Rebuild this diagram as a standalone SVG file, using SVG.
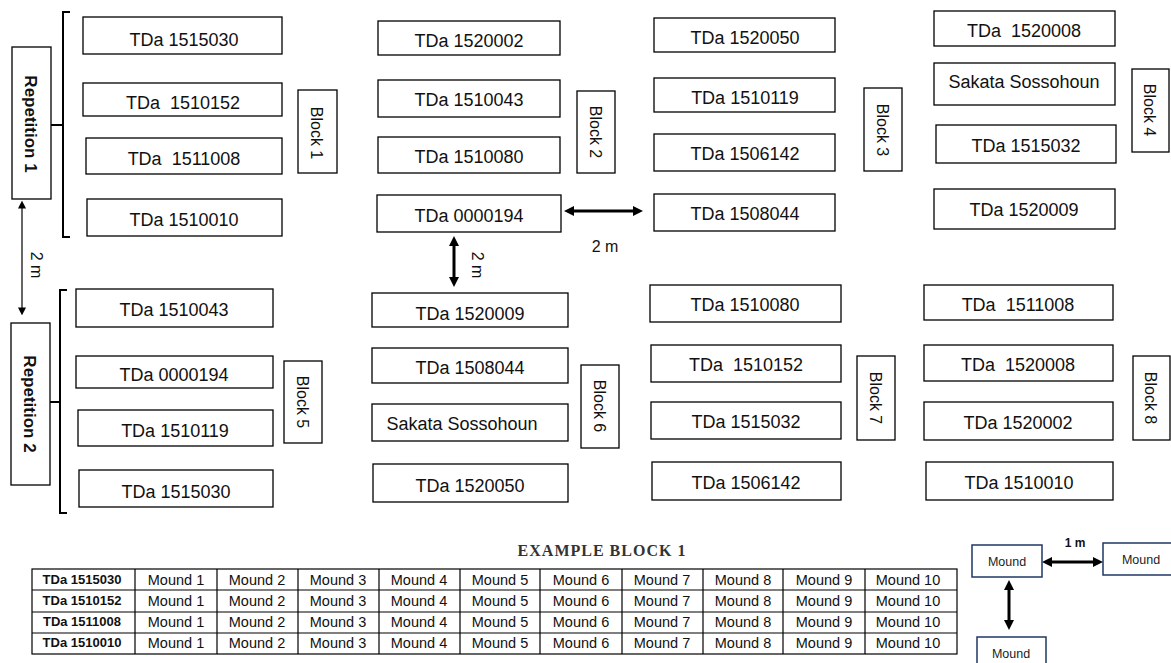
<svg xmlns="http://www.w3.org/2000/svg" width="1171" height="663" viewBox="0 0 1171 663">
<style>
.b{fill:#fff;stroke:#000;stroke-width:1.3}
.t{font-family:"Liberation Sans",Arial,sans-serif;font-size:18px;fill:#111;text-anchor:middle}
.rt{font-family:"Liberation Sans",Arial,sans-serif;font-size:16px;fill:#111;text-anchor:middle}
.rep{font-family:"Liberation Sans",Arial,sans-serif;font-size:17px;font-weight:bold;fill:#111;text-anchor:middle}
.br{fill:none;stroke:#000;stroke-width:2}
.th{stroke:#000;stroke-width:3;fill:none}
.tn{stroke:#000;stroke-width:1.2;fill:none}
.tc{fill:none;stroke:#000;stroke-width:1.2}
.tx{font-family:"Liberation Sans",Arial,sans-serif;font-size:14.5px;fill:#111;text-anchor:middle}
.tb{font-family:"Liberation Sans",Arial,sans-serif;font-size:13px;font-weight:bold;fill:#111;text-anchor:middle}
.mb{fill:#fff;stroke:#1f3864;stroke-width:1.5}
.mt{font-family:"Liberation Sans",Arial,sans-serif;font-size:12.5px;fill:#222;text-anchor:middle}
</style>
<defs>
<marker id="ah" viewBox="0 0 10 10" refX="2" refY="5" markerWidth="10" markerHeight="10" markerUnits="userSpaceOnUse" orient="auto-start-reverse"><path d="M0,0 L10,5 L0,10 z" fill="#000"/></marker>
<marker id="as" viewBox="0 0 10 10" refX="2" refY="5" markerWidth="8" markerHeight="9" markerUnits="userSpaceOnUse" orient="auto-start-reverse"><path d="M0,0 L10,5 L0,10 z" fill="#000"/></marker>
</defs>

<g id="rep1"><rect class="b" x="12" y="47" width="39" height="152"/><text class="rep" transform="translate(31,124) rotate(90)" dy="0.35em">Repetition 1</text></g>
<g id="rep2"><rect class="b" x="11" y="323" width="39" height="162"/><text class="rep" transform="translate(30,404) rotate(90)" dy="0.35em">Repetition 2</text></g>

<g id="brackets">
<path class="br" d="M70,12 H63 V237 H70 M51,125 H63"/>
<path class="br" d="M67,290 H60 V513 H67 M50,402 H60"/>
</g>

<g id="b1r1"><rect class="b" x="83" y="17" width="199" height="37"/><text class="t" x="184" y="46">TDa 1515030</text></g>
<g id="b1r2"><rect class="b" x="83" y="83" width="199" height="33"/><text class="t" x="183" y="109" xml:space="preserve">TDa  1510152</text></g>
<g id="b1r3"><rect class="b" x="86" y="138" width="196" height="36"/><text class="t" x="184" y="165" xml:space="preserve">TDa  1511008</text></g>
<g id="b1r4"><rect class="b" x="87" y="199" width="195" height="37"/><text class="t" x="184" y="226">TDa 1510010</text></g>
<g id="block1"><rect class="b" x="298" y="90" width="39" height="83"/><text class="rt" transform="translate(317,133) rotate(90)" dy="0.35em">Block 1</text></g>

<g id="b2r1"><rect class="b" x="378" y="21" width="182" height="34"/><text class="t" x="469" y="47">TDa 1520002</text></g>
<g id="b2r2"><rect class="b" x="378" y="80" width="182" height="37"/><text class="t" x="469" y="106">TDa 1510043</text></g>
<g id="b2r3"><rect class="b" x="378" y="137" width="182" height="36"/><text class="t" x="469" y="163">TDa 1510080</text></g>
<g id="b2r4"><rect class="b" x="377" y="195" width="184" height="37"/><text class="t" x="469" y="222">TDa 0000194</text></g>
<g id="block2"><rect class="b" x="577" y="91" width="38" height="82"/><text class="rt" transform="translate(596,132) rotate(90)" dy="0.35em">Block 2</text></g>

<g id="b3r1"><rect class="b" x="654" y="18" width="181" height="34"/><text class="t" x="745" y="44">TDa 1520050</text></g>
<g id="b3r2"><rect class="b" x="654" y="78" width="181" height="34"/><text class="t" x="745" y="104">TDa 1510119</text></g>
<g id="b3r3"><rect class="b" x="654" y="134" width="181" height="37"/><text class="t" x="745" y="160">TDa 1506142</text></g>
<g id="b3r4"><rect class="b" x="654" y="194" width="181" height="37"/><text class="t" x="745" y="220">TDa 1508044</text></g>
<g id="block3"><rect class="b" x="864" y="88" width="38" height="83"/><text class="rt" transform="translate(883,130) rotate(90)" dy="0.35em">Block 3</text></g>

<g id="b4r1"><rect class="b" x="934" y="11" width="181" height="35"/><text class="t" x="1024" y="37" xml:space="preserve">TDa  1520008</text></g>
<g id="b4r2"><rect class="b" x="934" y="63" width="181" height="42"/><text class="t" x="1024" y="88">Sakata Sossohoun</text></g>
<g id="b4r3"><rect class="b" x="936" y="125" width="180" height="38"/><text class="t" x="1026" y="152">TDa 1515032</text></g>
<g id="b4r4"><rect class="b" x="934" y="189" width="181" height="40"/><text class="t" x="1024" y="216">TDa 1520009</text></g>
<g id="block4"><rect class="b" x="1132" y="69" width="37" height="83"/><text class="rt" transform="translate(1150,110) rotate(90)" dy="0.35em">Block 4</text></g>

<g id="b5r1"><rect class="b" x="76" y="289" width="197" height="38"/><text class="t" x="174" y="316">TDa 1510043</text></g>
<g id="b5r2"><rect class="b" x="76" y="356" width="197" height="32"/><text class="t" x="174" y="381">TDa 0000194</text></g>
<g id="b5r3"><rect class="b" x="78" y="410" width="195" height="36"/><text class="t" x="175" y="437">TDa 1510119</text></g>
<g id="b5r4"><rect class="b" x="79" y="470" width="194" height="37"/><text class="t" x="176" y="498">TDa 1515030</text></g>
<g id="block5"><rect class="b" x="284" y="361" width="38" height="82"/><text class="rt" transform="translate(303,402) rotate(90)" dy="0.35em">Block 5</text></g>

<g id="b6r1"><rect class="b" x="372" y="293" width="196" height="34"/><text class="t" x="470" y="320">TDa 1520009</text></g>
<g id="b6r2"><rect class="b" x="372" y="348" width="196" height="35"/><text class="t" x="470" y="374">TDa 1508044</text></g>
<g id="b6r3"><rect class="b" x="372" y="404" width="196" height="37"/><text class="t" x="462" y="430">Sakata Sossohoun</text></g>
<g id="b6r4"><rect class="b" x="373" y="464" width="195" height="38"/><text class="t" x="470" y="492">TDa 1520050</text></g>
<g id="block6"><rect class="b" x="581" y="365" width="38" height="83"/><text class="rt" transform="translate(600,406) rotate(90)" dy="0.35em">Block 6</text></g>

<g id="b7r1"><rect class="b" x="650" y="285" width="191" height="37"/><text class="t" x="745" y="311">TDa 1510080</text></g>
<g id="b7r2"><rect class="b" x="651" y="345" width="190" height="37"/><text class="t" x="746" y="371" xml:space="preserve">TDa  1510152</text></g>
<g id="b7r3"><rect class="b" x="651" y="402" width="190" height="37"/><text class="t" x="746" y="428">TDa 1515032</text></g>
<g id="b7r4"><rect class="b" x="652" y="462" width="189" height="38"/><text class="t" x="746" y="489">TDa 1506142</text></g>
<g id="block7"><rect class="b" x="857" y="356" width="38" height="84"/><text class="rt" transform="translate(876,398) rotate(90)" dy="0.35em">Block 7</text></g>

<g id="b8r1"><rect class="b" x="924" y="285" width="189" height="35"/><text class="t" x="1018" y="311" xml:space="preserve">TDa  1511008</text></g>
<g id="b8r2"><rect class="b" x="924" y="345" width="189" height="36"/><text class="t" x="1018" y="371" xml:space="preserve">TDa  1520008</text></g>
<g id="b8r3"><rect class="b" x="924" y="402" width="189" height="38"/><text class="t" x="1018" y="429">TDa 1520002</text></g>
<g id="b8r4"><rect class="b" x="926" y="462" width="187" height="38"/><text class="t" x="1019" y="489">TDa 1510010</text></g>
<g id="block8"><rect class="b" x="1133" y="356" width="37" height="84"/><text class="rt" transform="translate(1151,398) rotate(90)" dy="0.35em">Block 8</text></g>

<g id="connectors">
<line class="tn" x1="22" y1="207" x2="22" y2="309" marker-start="url(#as)" marker-end="url(#as)"/>
<text class="rt" transform="translate(37,265) rotate(90)" dy="0.35em">2 m</text>
<line class="th" x1="572" y1="211" x2="635" y2="211" marker-start="url(#ah)" marker-end="url(#ah)"/>
<text class="rt" x="605" y="252">2 m</text>
<line class="th" x1="454" y1="244" x2="454" y2="279" marker-start="url(#ah)" marker-end="url(#ah)"/>
<text class="rt" transform="translate(478,265) rotate(90)" dy="0.35em">2 m</text>
<line class="th" x1="1050" y1="562" x2="1095" y2="562" marker-start="url(#ah)" marker-end="url(#ah)"/>
<line class="th" x1="1009" y1="588" x2="1009" y2="622" marker-start="url(#ah)" marker-end="url(#ah)"/>
</g>

<g id="example-title"><text x="602" y="556" style="font-family:'Liberation Serif','Times New Roman',serif;font-size:16px;font-weight:bold;letter-spacing:1px;fill:#333;text-anchor:middle">EXAMPLE BLOCK 1</text></g>

<g id="table">
<rect class="tc" x="32" y="569" width="925" height="85"/>
<path class="tc" d="M32,590 H957 M32,612 H957 M32,633 H957 M135,569 V654 M217,569 V654 M298,569 V654 M379,569 V654 M460,569 V654 M540,569 V654 M622,569 V654 M703,569 V654 M783,569 V654 M865,569 V654"/>
<g>
<text class="tb" x="82" y="584">TDa 1515030</text>
<text class="tb" x="82" y="605">TDa 1510152</text>
<text class="tb" x="82" y="626">TDa 1511008</text>
<text class="tb" x="82" y="647">TDa 1510010</text>
</g>
<g id="row1">
<text class="tx" x="176" y="585">Mound 1</text><text class="tx" x="257" y="585">Mound 2</text><text class="tx" x="338" y="585">Mound 3</text><text class="tx" x="419" y="585">Mound 4</text><text class="tx" x="500" y="585">Mound 5</text><text class="tx" x="581" y="585">Mound 6</text><text class="tx" x="662" y="585">Mound 7</text><text class="tx" x="743" y="585">Mound 8</text><text class="tx" x="824" y="585">Mound 9</text><text class="tx" x="908" y="585">Mound 10</text>
</g>
<g id="row2">
<text class="tx" x="176" y="606">Mound 1</text><text class="tx" x="257" y="606">Mound 2</text><text class="tx" x="338" y="606">Mound 3</text><text class="tx" x="419" y="606">Mound 4</text><text class="tx" x="500" y="606">Mound 5</text><text class="tx" x="581" y="606">Mound 6</text><text class="tx" x="662" y="606">Mound 7</text><text class="tx" x="743" y="606">Mound 8</text><text class="tx" x="824" y="606">Mound 9</text><text class="tx" x="908" y="606">Mound 10</text>
</g>
<g id="row3">
<text class="tx" x="176" y="627">Mound 1</text><text class="tx" x="257" y="627">Mound 2</text><text class="tx" x="338" y="627">Mound 3</text><text class="tx" x="419" y="627">Mound 4</text><text class="tx" x="500" y="627">Mound 5</text><text class="tx" x="581" y="627">Mound 6</text><text class="tx" x="662" y="627">Mound 7</text><text class="tx" x="743" y="627">Mound 8</text><text class="tx" x="824" y="627">Mound 9</text><text class="tx" x="908" y="627">Mound 10</text>
</g>
<g id="row4">
<text class="tx" x="176" y="648">Mound 1</text><text class="tx" x="257" y="648">Mound 2</text><text class="tx" x="338" y="648">Mound 3</text><text class="tx" x="419" y="648">Mound 4</text><text class="tx" x="500" y="648">Mound 5</text><text class="tx" x="581" y="648">Mound 6</text><text class="tx" x="662" y="648">Mound 7</text><text class="tx" x="743" y="648">Mound 8</text><text class="tx" x="824" y="648">Mound 9</text><text class="tx" x="908" y="648">Mound 10</text>
</g>
</g>

<g id="mound1"><rect class="mb" x="972" y="545" width="70" height="32"/><text class="mt" x="1007" y="566">Mound</text></g>
<g id="mound2"><rect class="mb" x="1103" y="543" width="72" height="32"/><text class="mt" x="1141" y="564">Mound</text></g>
<g id="mound3"><rect class="mb" x="977" y="637" width="69" height="32"/><text class="mt" x="1011" y="658">Mound</text></g>
<text x="1075" y="547" style="font-family:'Liberation Sans',Arial,sans-serif;font-size:12px;font-weight:bold;fill:#111;text-anchor:middle">1 m</text>
</svg>
